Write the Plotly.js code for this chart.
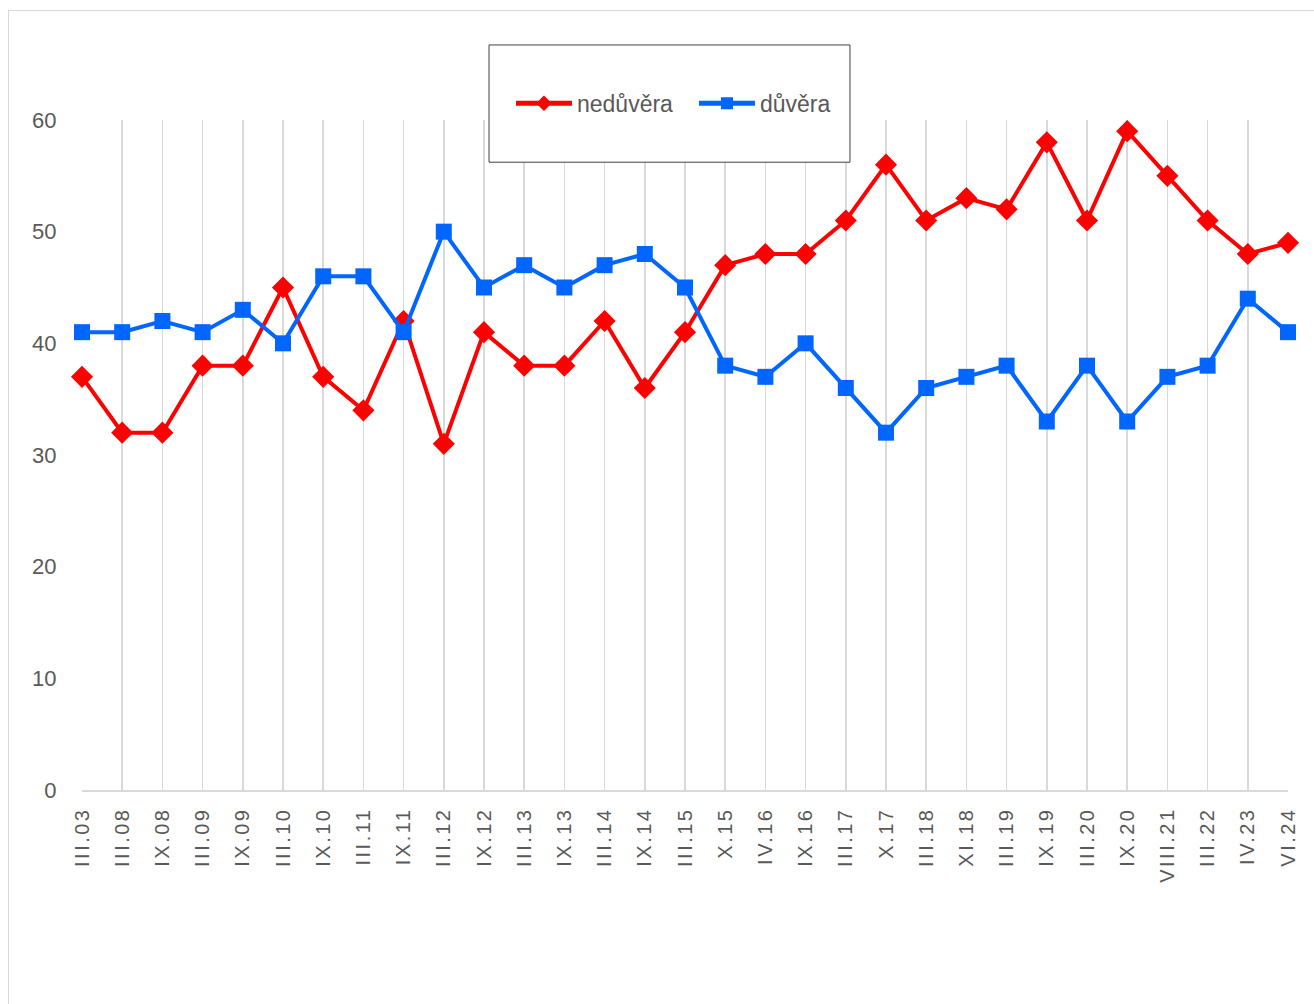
<!DOCTYPE html>
<html>
<head>
<meta charset="utf-8">
<script src="https://cdn.plot.ly/plotly-3.0.1.min.js"></script>
<style>
  html, body { margin: 0; padding: 0; background: #fff; }
  #frame { position: absolute; left: 8px; top: 10px; width: 1320px; height: 1010px; border: 1px solid #d9d9d9; box-sizing: border-box; }
  #chart { position: absolute; left: 0; top: 0; width: 1314px; height: 1004px; }
  #chart .xtick text { letter-spacing: 2.5px; }
</style>
</head>
<body>
<div id="frame"></div>
<div id="chart"></div>
<script>
const categories = ["III.03","III.08","IX.08","III.09","IX.09","III.10","IX.10","III.11","IX.11","III.12","IX.12","III.13","IX.13","III.14","IX.14","III.15","X.15","IV.16","IX.16","III.17","X.17","III.18","XI.18","III.19","IX.19","III.20","IX.20","VIII.21","III.22","IV.23","VI.24"];
const neduvera = [37,32,32,38,38,45,37,34,42,31,41,38,38,42,36,41,47,48,48,51,56,51,53,52,58,51,59,55,51,48,49];
const duvera   = [41,41,42,41,43,40,46,46,41,50,45,47,45,47,48,45,38,37,40,36,32,36,37,38,33,38,33,37,38,44,41];
const yTicks = [0,10,20,30,40,50,60];

const FONT = "Liberation Sans, Arial, sans-serif";

const traces = [
  {
    x: categories, y: neduvera, name: "nedůvěra", type: "scatter", mode: "lines+markers",
    line: {color: "#FF0000", width: 4},
    marker: {symbol: "diamond", size: 17, color: "#FF0000"},
    cliponaxis: false
  },
  {
    x: categories, y: duvera, name: "důvěra", type: "scatter", mode: "lines+markers",
    line: {color: "#0066FF", width: 4},
    marker: {symbol: "square", size: 16, color: "#0066FF"},
    cliponaxis: false
  }
];

const layout = {
  width: 1314, height: 1004,
  margin: {l: 82, r: 26, t: 120, b: 214},
  paper_bgcolor: "rgba(0,0,0,0)",
  plot_bgcolor: "rgba(0,0,0,0)",
  font: {family: FONT, color: "#595959"},
  showlegend: true,
  legend: {
    orientation: "h", x: 0.3557, xanchor: "left", y: 1.025, yanchor: "middle",
    bgcolor: "rgba(0,0,0,0)", borderwidth: 0,
    font: {family: FONT, size: 23, color: "#595959"},
    itemwidth: 56, entrywidth: 112, entrywidthmode: "pixels", traceorder: "normal",
    itemsizing: "constant"
  },
  xaxis: {
    type: "category", range: [0, 30],
    showgrid: true, gridcolor: "#d9d9d9", gridwidth: 1.5,
    showline: true, linecolor: "#d9d9d9", linewidth: 1.5,
    ticks: "outside", ticklen: 8, tickcolor: "rgba(0,0,0,0)",
    tickangle: -90, tickfont: {family: FONT, size: 20, color: "#595959"},
    zeroline: false, fixedrange: true
  },
  yaxis: {
    range: [0, 60], tickvals: yTicks, ticktext: yTicks.map(String),
    showgrid: false, showline: false, zeroline: false,
    ticks: "outside", ticklen: 20, tickcolor: "rgba(0,0,0,0)",
    tickfont: {family: FONT, size: 22, color: "#595959"},
    fixedrange: true
  },
  shapes: [
    {type: "rect", xref: "paper", yref: "paper",
     x0: 0.3375, x1: 0.6368, y0: 0.937, y1: 1.112,
     line: {color: "#404040", width: 1}, fillcolor: "#ffffff", layer: "above"}
  ]
};

Plotly.newPlot("chart", traces, layout, {displayModeBar: false, staticPlot: true});
</script>
</body>
</html>
